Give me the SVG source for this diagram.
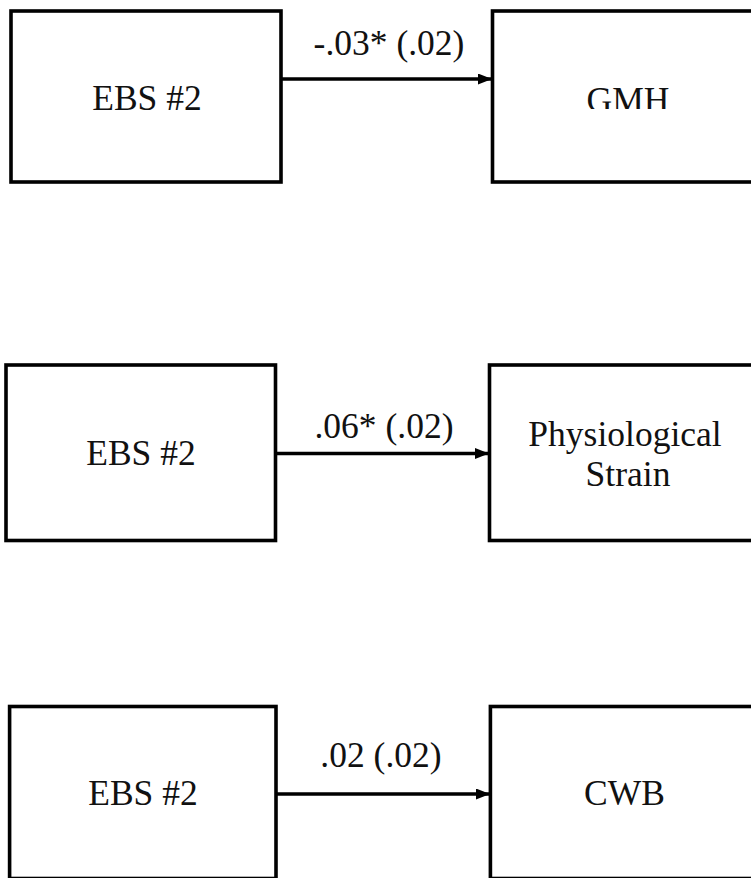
<svg xmlns="http://www.w3.org/2000/svg" width="751" height="878" viewBox="0 0 751 878">
<style>
.box{fill:#fff;stroke:#000;stroke-width:3.6}
.t{font-family:"Liberation Serif","Times New Roman",serif;font-size:35.5px;fill:#111;text-anchor:middle}
.c{stroke:#000;stroke-width:3.4;fill:none}
</style>
<defs>
<marker id="ah" markerUnits="userSpaceOnUse" markerWidth="14" markerHeight="11" refX="14" refY="5.5" orient="auto">
<path d="M0,0 L14,5.5 L0,11 Z" fill="#000"/>
</marker>
<clipPath id="gmhclip"><rect x="480" y="0" width="271" height="109"/></clipPath>
</defs>
<rect width="751" height="878" fill="#fff"/>
<g id="connectors">
<line class="c" x1="281" y1="79" x2="492" y2="79" marker-end="url(#ah)"/>
<line class="c" x1="275" y1="453.5" x2="489" y2="453.5" marker-end="url(#ah)"/>
<line class="c" x1="276" y1="794" x2="490" y2="794" marker-end="url(#ah)"/>
<text class="t" x="389" y="55">-.03* (.02)</text>
<text class="t" x="384" y="438">.06* (.02)</text>
<text class="t" x="381" y="767">.02 (.02)</text>
</g>
<g id="ebs1">
<rect class="box" x="11" y="11" width="270" height="171"/>
<text class="t" x="147" y="109.5">EBS #2</text>
</g>
<g id="gmh">
<rect class="box" x="492.5" y="11" width="270" height="171"/>
<text class="t" x="628" y="111.5" clip-path="url(#gmhclip)">GMH</text>
</g>
<g id="ebs2">
<rect class="box" x="6" y="365" width="269.5" height="175.5"/>
<text class="t" x="141" y="465">EBS #2</text>
</g>
<g id="strain">
<rect class="box" x="489.5" y="365" width="270" height="175.5"/>
<text class="t" x="625" y="446">Physiological</text>
<text class="t" x="628" y="486">Strain</text>
</g>
<g id="ebs3">
<rect class="box" x="9.6" y="706.5" width="266.4" height="172"/>
<text class="t" x="143" y="805">EBS #2</text>
</g>
<g id="cwb">
<rect class="box" x="490.4" y="706.5" width="270" height="172"/>
<text class="t" x="624.5" y="805">CWB</text>
</g>
</svg>
